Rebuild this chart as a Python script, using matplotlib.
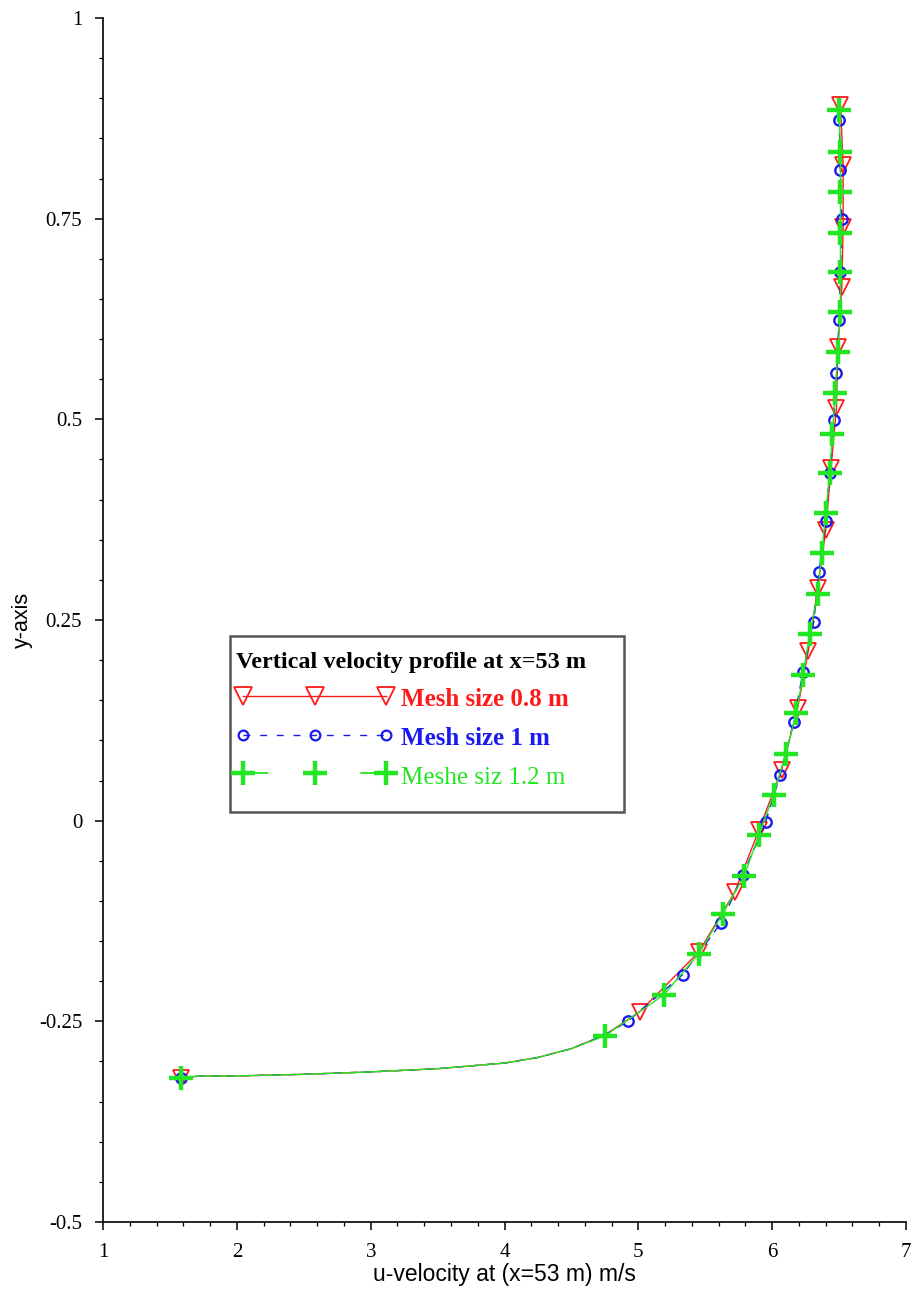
import matplotlib.pyplot as plt
from matplotlib.ticker import MultipleLocator, FixedLocator, FixedFormatter
from matplotlib.lines import Line2D
from matplotlib.patches import Rectangle

# u-velocity profiles at x = 53 m, three mesh sizes
# (first point is the bed, then the near-bed tail, then the marked points up the column)
u_08 = [1.58, 1.75, 2.0, 2.5, 3.0, 3.5, 4.0, 4.25, 4.5, 4.75,
        5.01, 5.45, 5.72, 5.90, 6.07, 6.19, 6.27, 6.34, 6.40, 6.44,
        6.48, 6.49, 6.52, 6.53, 6.53, 6.51]
y_08 = [-0.32, -0.318, -0.318, -0.316, -0.313, -0.309, -0.302, -0.295, -0.284, -0.267,
        -0.238, -0.164, -0.089, -0.012, 0.063, 0.140, 0.212, 0.290, 0.362, 0.440,
        0.514, 0.590, 0.665, 0.740, 0.817, 0.892]
tail_08 = 10

u_10 = [1.58, 1.75, 2.0, 2.5, 3.0, 3.5, 4.0, 4.25, 4.5, 4.75,
        4.92, 5.33, 5.62, 5.78, 5.95, 6.06, 6.16, 6.23, 6.31, 6.35,
        6.40, 6.43, 6.46, 6.48, 6.50, 6.51, 6.52, 6.51, 6.50]
y_10 = [-0.32, -0.318, -0.318, -0.316, -0.313, -0.309, -0.302, -0.295, -0.284, -0.267,
        -0.250, -0.192, -0.127, -0.068, -0.002, 0.057, 0.123, 0.185, 0.247, 0.310,
        0.373, 0.433, 0.499, 0.558, 0.624, 0.683, 0.750, 0.811, 0.873]
tail_10 = 10

u_12 = [1.58, 1.75, 2.0, 2.5, 3.0, 3.5, 4.0, 4.25, 4.5,
        4.75, 5.19, 5.45, 5.63, 5.79, 5.90, 6.01, 6.10, 6.18, 6.23,
        6.28, 6.34, 6.37, 6.40, 6.43, 6.45, 6.47, 6.49, 6.51, 6.51,
        6.51, 6.51, 6.51, 6.50]
y_12 = [-0.32, -0.318, -0.318, -0.316, -0.313, -0.309, -0.302, -0.295, -0.284,
        -0.268, -0.217, -0.166, -0.116, -0.069, -0.018, 0.032, 0.083, 0.134, 0.181,
        0.232, 0.283, 0.333, 0.383, 0.433, 0.482, 0.533, 0.584, 0.634, 0.683,
        0.732, 0.783, 0.833, 0.885]
tail_12 = 9

x_ticks = [1, 2, 3, 4, 5, 6, 7]
y_ticks = [-0.5, -0.25, 0, 0.25, 0.5, 0.75, 1]
y_tick_labels = ["-0.5", "-0.25", "0", "0.25", "0.5", "0.75", "1"]

legend_title = "Vertical velocity profile at x=53 m"
labels = ["Mesh size 0.8 m", "Mesh size 1 m", "Meshe siz 1.2 m"]

RED = "#ff1a1a"
BLUE = "#1a1aee"
GREEN = "#22e622"

W, H = 915, 1296


def marks(n, tail):
    return [0] + list(range(tail, n))


fig = plt.figure(figsize=(W / 100, H / 100), dpi=100)
ax = fig.add_axes([0.1126, 0.0571, 0.8776, 0.9290])

ax.plot(u_08, y_08, color=RED, lw=1.0, marker="v", ms=11, mfc="none", mec=RED, mew=1.3,
        markevery=marks(len(u_08), tail_08))
ax.plot(u_10, y_10, color=BLUE, lw=1.0, ls=(0, (6, 5)), marker="o", ms=7.5, mfc="none",
        mec=BLUE, mew=1.7, markevery=marks(len(u_10), tail_10))
ax.plot(u_12, y_12, color=GREEN, lw=1.0, marker="+", ms=17, mec=GREEN, mew=3.2,
        markevery=marks(len(u_12), tail_12))

ax.set_xlim(1, 7)
ax.set_ylim(-0.5, 1)
ax.xaxis.set_major_locator(FixedLocator(x_ticks))
ax.xaxis.set_minor_locator(MultipleLocator(0.2))
ax.yaxis.set_major_locator(FixedLocator(y_ticks))
ax.yaxis.set_major_formatter(FixedFormatter(y_tick_labels))
ax.yaxis.set_minor_locator(MultipleLocator(0.05))

for s in ("top", "right"):
    ax.spines[s].set_visible(False)
for s in ("left", "bottom"):
    ax.spines[s].set_linewidth(1.2)

ax.tick_params(which="major", direction="out", length=6, width=1.1, pad=9)
ax.tick_params(which="minor", direction="out", length=3, width=0.9)
for lab in ax.get_xticklabels() + ax.get_yticklabels():
    lab.set_family("Liberation Serif")
    lab.set_fontsize(15)

ax.set_xlabel("u-velocity at (x=53 m) m/s", family="Liberation Sans", fontsize=16.5, labelpad=1)
ax.set_ylabel("y-axis", family="Liberation Sans", fontsize=15.5, labelpad=4)

# legend box, drawn separately so it can be wider than the text
box_l, box_t, box_r, box_b = 230, 636, 624, 812
fig.patches.append(Rectangle((box_l / W, 1 - box_b / H), (box_r - box_l) / W,
                             (box_b - box_t) / H, transform=fig.transFigure,
                             facecolor="white", edgecolor="#555555", lw=1.8, zorder=2))

handles = [
    Line2D([], [], color=RED, lw=1.0, marker="v", ms=13, mfc="none", mec=RED, mew=1.3),
    Line2D([], [], color=BLUE, lw=1.0, ls=(0, (5, 7)), marker="o", ms=7, mfc="none",
           mec=BLUE, mew=1.6),
    Line2D([], [], color=GREEN, lw=1.3, ls=(0, (14, 51)), marker="+", ms=17, mec=GREEN, mew=3.2),
]
leg = fig.legend(handles, labels, loc="upper left", bbox_to_anchor=(217 / W, 1 - 633 / H),
                 bbox_transform=fig.transFigure, title=legend_title, numpoints=3,
                 handlelength=6.3, handleheight=1.2, handletextpad=0.3, labelspacing=0.5,
                 borderpad=0.75, borderaxespad=0, frameon=False, alignment="left",
                 prop={"family": "Liberation Serif", "size": 18},
                 title_fontproperties={"family": "Liberation Serif", "size": 17.5,
                                       "weight": "bold"})
leg.set_zorder(3)
for txt, c, w in zip(leg.get_texts(), [RED, BLUE, GREEN], ["bold", "bold", "normal"]):
    txt.set_color(c)
    txt.set_fontweight(w)

fig.savefig("out.png", dpi=100, facecolor="white")
